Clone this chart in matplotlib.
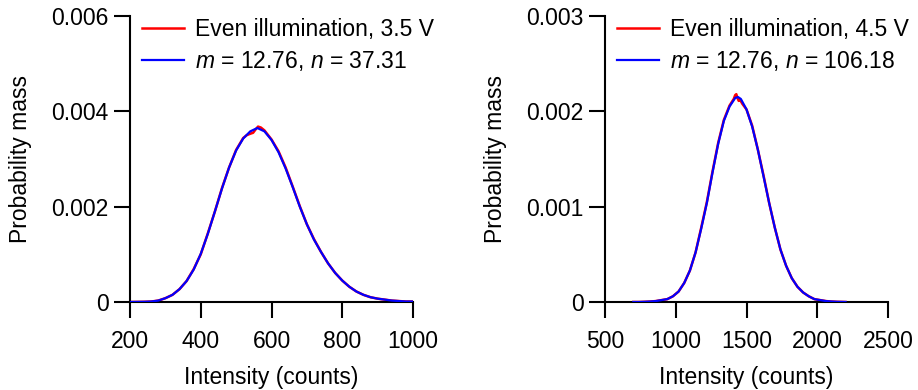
import matplotlib
matplotlib.use("Agg")
import matplotlib.pyplot as plt

plt.rcParams['font.family'] = ['Liberation Sans', 'DejaVu Sans']
plt.rcParams['mathtext.fontset'] = 'custom'
plt.rcParams['mathtext.rm'] = 'Liberation Sans'
plt.rcParams['mathtext.it'] = 'Liberation Sans:italic'

# ---- Left panel (3.5 V) ----
left_x = [200, 220, 240, 260, 280, 300, 320, 340, 360, 380, 400, 420, 440, 460,
          480, 500, 520, 540, 560, 580, 600, 620, 640, 660, 680, 700, 720, 740,
          760, 780, 800, 820, 840, 860, 880, 900, 920, 940, 960, 980, 1000]
left_fit = [0.0, 0.000002, 0.000004, 0.00001, 0.00003, 0.00008, 0.00015, 0.00027,
            0.00044, 0.00068, 0.00101, 0.00143, 0.00190, 0.00238, 0.00282, 0.00318,
            0.00343, 0.00358, 0.00365, 0.00358, 0.00340, 0.00314, 0.00280, 0.00241,
            0.00200, 0.00163, 0.00131, 0.00105, 0.00081, 0.00061, 0.00045, 0.00032,
            0.00022, 0.00015, 0.00010, 0.00007, 0.00005, 0.00003, 0.00002, 0.00001,
            0.00001]
left_data_x = [200, 220, 240, 260, 280, 300, 320, 340, 360, 380, 400, 420, 440, 460,
               480, 500, 520, 530, 540, 548, 555, 562, 570, 580, 600, 620, 630, 640,
               660, 680, 700, 720, 740, 760, 780, 800, 820, 840, 860, 880, 900, 920,
               940, 960, 980, 1000]
left_data = [0.0, 0.000002, 0.000004, 0.00001, 0.00003, 0.00008, 0.00015, 0.00027,
             0.00044, 0.00069, 0.00100, 0.00144, 0.00190, 0.00239, 0.00282, 0.00319,
             0.00344, 0.00350, 0.00353, 0.00355, 0.00362, 0.00368, 0.00366, 0.00360,
             0.00341, 0.00316, 0.00299, 0.00282, 0.00242, 0.00201, 0.00163, 0.00132,
             0.00105, 0.00081, 0.00061, 0.00045, 0.00032, 0.00022, 0.00015, 0.00010,
             0.00007, 0.00005, 0.00003, 0.00002, 0.00001, 0.00001]

# ---- Right panel (4.5 V) ----
right_x = [700, 740, 780, 820, 860, 900, 940, 980, 1020, 1060, 1100, 1140, 1180,
           1220, 1260, 1300, 1340, 1380, 1420, 1440, 1460, 1500, 1540, 1580, 1620,
           1660, 1700, 1740, 1780, 1820, 1860, 1900, 1940, 1980, 2020, 2060, 2100,
           2140, 2200]
right_fit = [0.0, 0.0, 0.000002, 0.000005, 0.00001, 0.00002, 0.00003, 0.00006,
             0.00011, 0.00020, 0.00033, 0.00052, 0.00077, 0.00104, 0.00136, 0.00166,
             0.00190, 0.00205, 0.00214, 0.00215, 0.00213, 0.00202, 0.00184, 0.00160,
             0.00132, 0.00104, 0.00078, 0.00055, 0.00038, 0.00025, 0.00016, 0.00010,
             0.00006, 0.00003, 0.00002, 0.00001, 0.000005, 0.000002, 0.0]
right_data_x = [700, 740, 780, 820, 860, 900, 940, 980, 1020, 1060, 1100, 1140, 1180,
                1220, 1260, 1300, 1340, 1380, 1410, 1420, 1428, 1436, 1445, 1455, 1470,
                1500, 1540, 1580, 1620, 1660, 1700, 1740, 1780, 1820, 1860, 1900, 1940,
                1980, 2020, 2060, 2100, 2140, 2200]
right_data = [0.0, 0.0, 0.000002, 0.000005, 0.00001, 0.00002, 0.00003, 0.00006,
              0.00011, 0.00020, 0.00033, 0.00052, 0.00078, 0.00105, 0.00137, 0.00167,
              0.00191, 0.00206, 0.00213, 0.00217, 0.00218, 0.00214, 0.00211, 0.00212,
              0.00208, 0.00202, 0.00185, 0.00160, 0.00133, 0.00104, 0.00078, 0.00055,
              0.00038, 0.00025, 0.00016, 0.00010, 0.00006, 0.00003, 0.00002, 0.00001,
              0.000005, 0.000002, 0.0]

left_xticks = [200, 400, 600, 800, 1000]
left_yticks = [0, 0.002, 0.004, 0.006]
left_yticklabels = ["0", "0.002", "0.004", "0.006"]
right_xticks = [500, 1000, 1500, 2000, 2500]
right_yticks = [0, 0.001, 0.002, 0.003]
right_yticklabels = ["0", "0.001", "0.002", "0.003"]

labels_left = ["Even illumination, 3.5 V", r"$m$ = 12.76, $n$ = 37.31"]
labels_right = ["Even illumination, 4.5 V", r"$m$ = 12.76, $n$ = 106.18"]

fig = plt.figure(figsize=(9.18, 3.9), dpi=100)
W, H = 918, 390
ax1 = fig.add_axes([130 / W, (H - 302) / H, 283 / W, 286 / H])
ax2 = fig.add_axes([605 / W, (H - 302) / H, 283 / W, 286 / H])

panels = [
    (ax1, left_data_x, left_data, left_x, left_fit, left_xticks, left_yticks,
     left_yticklabels, (200, 1000), (0, 0.006), labels_left),
    (ax2, right_data_x, right_data, right_x, right_fit, right_xticks, right_yticks,
     right_yticklabels, (500, 2500), (0, 0.003), labels_right),
]

fs = 16.5
for (ax, dx, dy, fx, fy, xt, yt, ytl, xl, yl, labs) in panels:
    ax.plot(dx, dy, color='#ff0000', lw=1.8, label=labs[0], zorder=2,
            solid_joinstyle='round')
    ax.plot(fx, fy, color='#0000ff', lw=1.6, label=labs[1], zorder=3,
            solid_joinstyle='round')
    ax.set_xlim(*xl)
    ax.set_ylim(*yl)
    ax.set_xticks(xt)
    ax.set_xticklabels([str(v) for v in xt])
    ax.set_yticks(yt)
    ax.set_yticklabels(ytl)
    for s in ['top', 'right']:
        ax.spines[s].set_visible(False)
    for s in ['left', 'bottom']:
        ax.spines[s].set_linewidth(1.5)
    ax.tick_params(axis='both', direction='out', length=11.5, width=1.5,
                   labelsize=fs, pad=4)
    ax.tick_params(axis='x', pad=9)
    ax.set_xlabel("Intensity (counts)", fontsize=fs, labelpad=9)
    ax.set_ylabel("Probability mass", fontsize=fs, labelpad=14)
    ax.legend(loc='upper left', bbox_to_anchor=(-0.014, 1.05), frameon=False,
              fontsize=fs, handlelength=1.83, handletextpad=0.48,
              borderaxespad=0.3, labelspacing=0.35)

fig.savefig("out.png", dpi=100)
